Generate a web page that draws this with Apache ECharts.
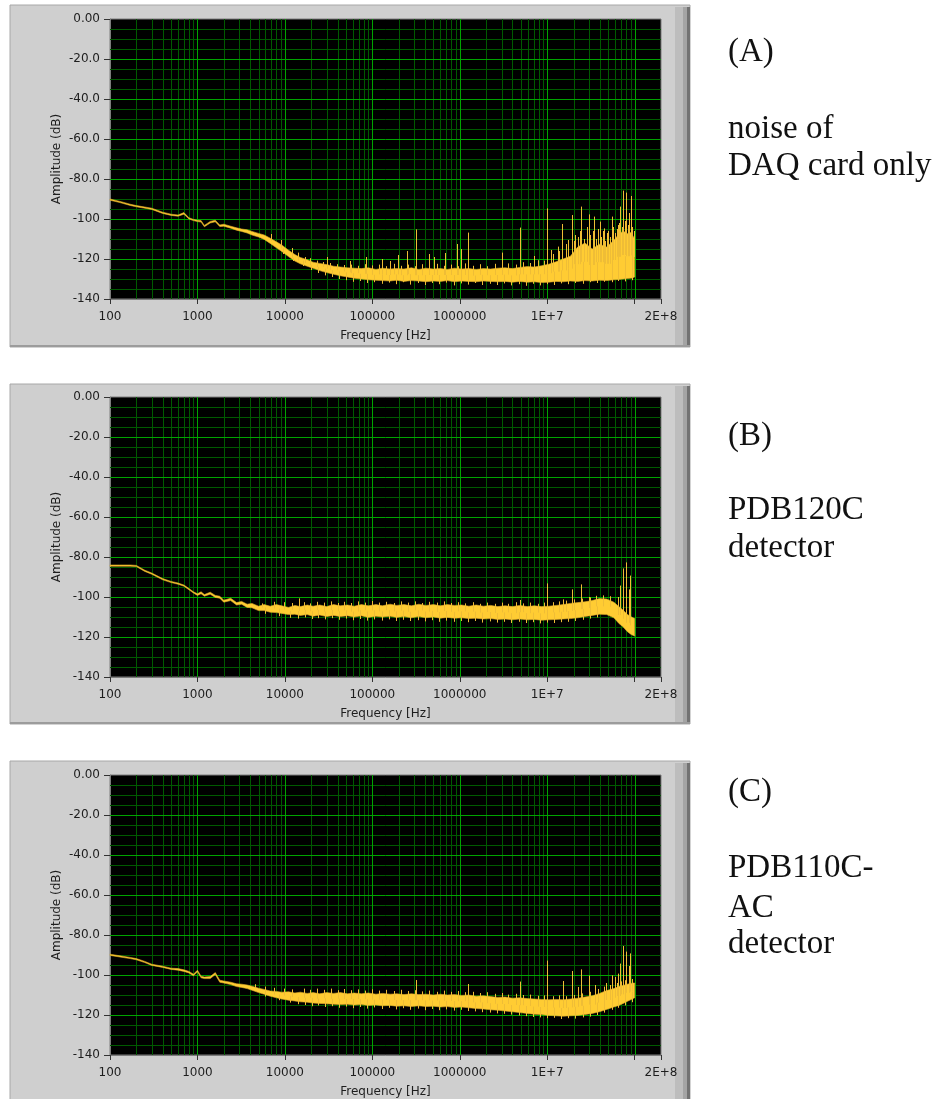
<!DOCTYPE html>
<html><head><meta charset="utf-8">
<script src="https://cdn.jsdelivr.net/npm/echarts@6/dist/echarts.min.js"></script>
<style>html,body{margin:0;padding:0;background:#fff}#c{width:940px;height:1099px}</style>
</head><body><div id="c"></div>
<script>
// ---------------- data ----------------
const bandFreq = [100,130,170,200,250,300,400,500,600,700,800,900,1000,1100,1200,1400,1600,1800,2000,2400,2800,3200,3700,4200,5000,5800,6800,8000,9200,11000,13000,15000,18000,21000,25000,30000,36000,43000,52000,62000,75000,90000,110000,130000,160000,190000,230000,280000,340000,410000,500000,600000,720000,870000,1050000,1270000,1540000,1860000,2250000,2720000,3300000,4000000,4850000,5900000,7100000,8600000,10400000,12600000,15200000,18400000,22300000,27000000,32700000,39500000,47800000,57800000,66000000,74000000,82000000,90000000,96000000,100000000];

const aHi = [-90.0,-91.2,-92.6,-93.3,-94.0,-94.6,-96.6,-97.6,-98.0,-96.8,-99.4,-100.2,-100.6,-100.8,-103.2,-101.2,-100.6,-103.0,-102.6,-103.6,-104.4,-105.0,-105.4,-106.2,-107.2,-108.0,-109.6,-111.4,-113.0,-115.6,-117.8,-119.2,-120.4,-121.6,-122.2,-122.8,-123.6,-124.0,-124.4,-124.6,-124.8,-124.4,-125.2,-124.6,-125.0,-124.8,-125.0,-124.4,-125.2,-124.6,-125.0,-124.8,-125.2,-124.6,-125.0,-124.8,-125.2,-124.8,-125.0,-124.6,-124.4,-124.8,-124.2,-123.8,-124.0,-123.4,-122.6,-121.4,-120.0,-118.6,-114.0,-112.0,-115.0,-112.6,-114.0,-110.6,-107.6,-106.0,-107.4,-106.8,-108.6,-110.0];
const aLo = [-90.6,-91.8,-93.2,-93.9,-94.6,-95.2,-97.2,-98.2,-98.6,-97.6,-100.0,-100.8,-101.3,-101.5,-103.9,-102.0,-101.4,-103.8,-103.6,-104.6,-105.6,-106.2,-107.0,-108.0,-109.0,-110.2,-112.2,-114.4,-116.2,-118.8,-121.0,-122.4,-123.6,-124.6,-125.8,-126.8,-127.6,-128.4,-129.0,-129.6,-130.0,-130.4,-130.6,-130.8,-131.0,-130.6,-131.2,-130.8,-131.0,-131.4,-131.0,-131.2,-130.8,-131.4,-131.0,-131.2,-131.4,-131.0,-131.2,-131.4,-131.2,-131.6,-131.2,-131.6,-131.4,-131.8,-131.6,-131.2,-131.4,-131.0,-131.2,-130.8,-131.0,-130.6,-130.8,-130.4,-130.2,-130.0,-129.8,-129.6,-129.4,-129.0];

const bHi = [-84.0,-84.0,-84.0,-84.2,-86.6,-88.0,-90.8,-92.2,-93.0,-94.0,-95.8,-97.4,-98.4,-97.4,-98.8,-97.6,-99.2,-99.6,-101.6,-100.6,-102.8,-102.2,-103.6,-103.2,-104.6,-103.8,-104.6,-103.8,-104.4,-105.2,-104.2,-104.8,-104.0,-104.6,-104.0,-104.8,-103.8,-104.4,-104.0,-104.6,-103.8,-104.4,-103.8,-104.4,-103.6,-104.2,-103.8,-104.4,-103.6,-104.2,-103.8,-104.4,-103.8,-104.2,-104.0,-104.6,-104.0,-104.6,-104.2,-104.8,-104.4,-104.8,-104.2,-104.8,-104.4,-104.8,-104.6,-104.2,-103.8,-103.2,-102.8,-102.4,-101.8,-100.8,-101.0,-102.6,-104.8,-106.6,-108.6,-109.8,-110.4,-110.8];
const bLo = [-84.6,-84.6,-84.6,-84.8,-87.2,-88.6,-91.4,-92.8,-93.6,-94.6,-96.4,-98.0,-99.2,-98.4,-99.6,-98.6,-100.2,-100.6,-102.6,-101.8,-104.0,-103.6,-105.2,-105.4,-106.8,-106.8,-107.6,-107.8,-108.2,-108.8,-108.6,-109.2,-108.8,-109.6,-109.0,-109.8,-109.2,-109.8,-109.4,-110.0,-109.4,-110.2,-109.6,-110.0,-109.6,-110.2,-109.8,-110.4,-109.8,-110.4,-110.0,-110.6,-110.2,-110.6,-110.4,-110.8,-110.6,-111.0,-110.8,-111.2,-111.0,-111.4,-111.0,-111.4,-111.2,-111.6,-111.4,-111.2,-111.0,-110.8,-110.4,-109.8,-109.2,-108.6,-108.8,-110.4,-113.2,-115.0,-117.2,-118.6,-119.2,-119.6];

const cHi = [-89.6,-90.4,-91.2,-91.8,-93.2,-94.6,-95.6,-96.6,-96.8,-97.4,-98.2,-99.6,-97.6,-100.6,-101.0,-100.8,-98.8,-102.6,-103.0,-103.6,-104.4,-104.6,-105.0,-105.6,-106.6,-107.2,-108.0,-108.2,-108.6,-108.4,-109.0,-108.6,-109.2,-108.8,-109.4,-108.8,-109.2,-108.8,-109.4,-109.0,-109.4,-109.0,-109.6,-109.2,-109.6,-109.4,-109.8,-109.4,-109.8,-109.6,-110.0,-109.6,-110.0,-109.8,-110.2,-110.0,-110.6,-110.4,-110.8,-111.2,-111.0,-111.6,-111.4,-111.8,-112.0,-112.2,-112.4,-112.2,-112.4,-112.0,-111.6,-111.0,-110.4,-109.2,-107.8,-106.8,-105.8,-105.2,-104.6,-104.2,-104.0,-104.0];
const cLo = [-90.2,-91.0,-91.8,-92.4,-93.8,-95.2,-96.2,-97.2,-97.6,-98.2,-99.0,-100.4,-98.4,-101.4,-101.8,-101.8,-99.8,-103.6,-104.0,-104.8,-105.8,-106.2,-106.8,-107.6,-108.8,-109.6,-110.6,-111.4,-112.0,-112.6,-113.0,-113.4,-113.6,-114.0,-114.2,-114.4,-114.6,-114.8,-114.6,-115.0,-114.8,-115.2,-115.0,-115.4,-115.2,-115.6,-115.4,-115.8,-115.4,-115.8,-115.6,-116.0,-115.8,-116.2,-116.0,-116.4,-116.8,-117.0,-117.4,-117.6,-118.0,-118.4,-118.8,-119.2,-119.6,-119.8,-120.2,-120.4,-120.6,-120.4,-120.2,-119.8,-119.2,-118.4,-117.2,-116.0,-115.2,-114.2,-113.2,-112.4,-111.8,-111.4];

// narrow peaks and dips: [frequency, dB]
const spikesA = [[30000,-119],[55000,-121],[84000,-119],[130000,-120],[160000,-121],[195000,-118],[247000,-116],[313000,-105.2],[450000,-117.5],[510000,-119],[680000,-117],[920000,-112.5],[1020000,-115],[1240000,-106.8],[3040000,-116.8],[4930000,-104.3],[7100000,-118.5],[9860000,-94.7],[10900000,-115.5],[13300000,-113.8],[14900000,-102.5],[17300000,-110.5],[19400000,-98],[22500000,-109],[24600000,-93.8],[29800000,-97.7],[34300000,-98.8],[39800000,-101.3],[44300000,-104.7],[48300000,-107],[54700000,-98.8],[64600000,-103],[68700000,-93.8],[73700000,-85.8],[80500000,-86.8],[85500000,-97],[90000000,-88.5]];
const fuzzA = [[7000,-107.5],[9000,-110.5],[12000,-114.5],[14000,-116.8],[17000,-119],[19500,-119.6],[23000,-120.8],[27000,-121.5],[33000,-122],[39000,-122.6],[47000,-123],[57000,-122.8],[68000,-123.4],[82000,-122.6],[100000,-123.2],[120000,-122.8],[145000,-123.6],[175000,-122.4],[210000,-123.4],[255000,-122.8],[310000,-123.6],[370000,-122.6],[450000,-123.8],[550000,-122.4],[660000,-123.4],[800000,-122.8],[960000,-123.6],[1150000,-122.2],[1400000,-123.4],[1700000,-122.6],[2050000,-123.6],[2500000,-122.4],[3000000,-123.2],[3600000,-122.2],[4400000,-122.8],[5300000,-121.6],[6400000,-122],[7800000,-120.6],[9300000,-120.8],[11500000,-117.5],[13800000,-116],[16500000,-112.5],[20500000,-111],[21000000,-108],[23500000,-106],[26000000,-110],[28500000,-104],[31000000,-108],[33500000,-106],[36000000,-110],[38000000,-105],[41000000,-109],[43000000,-106],[46000000,-111],[50000000,-106],[52000000,-109],[57000000,-104],[60000000,-107],[62000000,-105],[66000000,-102],[71000000,-104],[77000000,-101],[83000000,-103],[87000000,-100],[93000000,-104],[97000000,-106],
  [9500,-117.5],[12500,-121],[16000,-123.5],[20000,-125.5],[24000,-127],[29000,-128.2],[35000,-129],[42000,-130],[50000,-130.6],[60000,-131.4],[73000,-131],[88000,-132],[105000,-131.6],[128000,-132.4],[155000,-131.8],[185000,-132.6],[225000,-131.6],[270000,-132.8],[330000,-132],[400000,-133],[480000,-132],[580000,-132.6],[700000,-131.8],[850000,-133.2],[1030000,-132.2],[1250000,-132.8],[1500000,-132],[1800000,-133],[2200000,-132.4],[2650000,-133],[3200000,-132.2],[3900000,-133.2],[4700000,-132.6],[5700000,-133.4],[6900000,-132.4],[8300000,-133.2],[10000000,-132.6],[12000000,-133],[14500000,-132.2],[17500000,-132.6],[21000000,-132],[25500000,-132.4],[31000000,-131.6],[37500000,-132],[45000000,-131.4],[55000000,-131.6],[65000000,-131],[78000000,-131.2],[92000000,-130.6]];
const spikesB = [[14500,-100.7],[4930000,-101.5],[9860000,-93.2],[15000000,-101.2],[19400000,-96.2],[24600000,-93.7],[29800000,-100],[64600000,-100],[68700000,-94.3],[73700000,-85.7],[79600000,-82.7],[85000000,-96.2],[89000000,-89.3]];
const fuzzB = [[5500,-103.2],[7500,-102.4],[9800,-102.6],[12000,-103],[16500,-102.6],[19500,-103.2],[23000,-102.4],[28000,-102.8],[34000,-102.2],[40000,-103],[48000,-102.4],[57000,-103],[68000,-102.2],[82000,-102.8],[100000,-102],[120000,-102.8],[145000,-102.4],[175000,-103],[210000,-102.2],[255000,-102.8],[310000,-102.2],[370000,-103],[450000,-102.4],[550000,-102.8],[660000,-102.2],[800000,-103],[960000,-102.6],[1150000,-103.2],[1400000,-102.6],[1700000,-103.4],[2050000,-102.8],[2500000,-103.4],[3000000,-102.8],[3600000,-103.4],[4400000,-102.6],[5300000,-103.2],[6400000,-102.8],[7800000,-103.4],[9300000,-102.8],[11500000,-102.6],[13800000,-102.2],[16500000,-101.8],[20500000,-101.2],[25000000,-100.8],[31000000,-100.2],[36000000,-99.4],[43000000,-99.2],[52000000,-99.6],
  [6000,-108.4],[8500,-109.6],[11500,-110.4],[14000,-110.8],[17000,-110.2],[20500,-111],[24000,-110.6],[29000,-111.2],[35000,-110.6],[42000,-111.4],[50000,-110.8],[60000,-111.6],[73000,-111],[88000,-111.8],[105000,-111.2],[128000,-111.8],[155000,-111.2],[185000,-112],[225000,-111.4],[270000,-112],[330000,-111.6],[400000,-112.2],[480000,-111.6],[580000,-112.4],[700000,-111.8],[850000,-112.4],[1030000,-112],[1250000,-112.6],[1500000,-112],[1800000,-112.8],[2200000,-112.2],[2650000,-112.8],[3200000,-112.4],[3900000,-113],[4700000,-112.4],[5700000,-113],[6900000,-112.6],[8300000,-113.2],[10000000,-112.8],[12000000,-113],[14500000,-112.6],[17500000,-112.4],[21000000,-112],[25500000,-111.4],[31000000,-110.8],[37500000,-110.2]];
const spikesC = [[313000,-102.5],[1240000,-104.5],[4930000,-103.3],[9860000,-92.8],[15000000,-103],[19400000,-98],[22500000,-106],[24600000,-97.2],[29800000,-100.3],[35000000,-105],[47000000,-104],[54700000,-100.2],[59000000,-101],[64600000,-99.3],[68700000,-94.3],[73700000,-85.5],[80000000,-88.3],[85000000,-95.5],[89000000,-89.2]];
const fuzzC = [[4500,-104.6],[6000,-105.8],[7500,-106.4],[9800,-106.8],[12000,-107.2],[16500,-106.8],[19500,-107.4],[23000,-106.8],[28000,-107.4],[34000,-106.8],[40000,-107.6],[48000,-107],[57000,-107.6],[68000,-107.2],[82000,-107.8],[100000,-107.2],[120000,-107.8],[145000,-107.4],[175000,-108],[210000,-107.4],[255000,-108],[310000,-107.6],[370000,-108.2],[450000,-107.8],[550000,-108.4],[660000,-107.8],[800000,-108.4],[960000,-108],[1150000,-108.6],[1400000,-108.4],[1700000,-109],[2050000,-108.6],[2500000,-109.4],[3000000,-109],[3600000,-109.8],[4400000,-109.4],[5300000,-110],[6400000,-109.8],[7800000,-110.4],[9300000,-110.2],[11500000,-110.6],[13800000,-110.2],[16500000,-110.6],[20500000,-110],[25000000,-109.2],[31000000,-108.4],[38000000,-107],[45000000,-105.8],[52000000,-105],[62000000,-104],[70000000,-103.2],[78000000,-102.6],[86000000,-102.2],[94000000,-102],
  [6000,-110.8],[8500,-112.6],[11500,-113.8],[14000,-114.6],[17000,-115],[20500,-115.6],[24000,-115.2],[29000,-116],[35000,-115.6],[42000,-116.4],[50000,-115.8],[60000,-116.6],[73000,-116],[88000,-116.8],[105000,-116.2],[128000,-117],[155000,-116.4],[185000,-117.2],[225000,-116.6],[270000,-117.4],[330000,-116.8],[400000,-117.6],[480000,-117],[580000,-117.6],[700000,-117.2],[850000,-117.8],[1030000,-117.4],[1250000,-118],[1500000,-118.2],[1800000,-118.6],[2200000,-118.8],[2650000,-119.2],[3200000,-119.4],[3900000,-119.8],[4700000,-120.2],[5700000,-120.6],[6900000,-121],[8300000,-121.2],[10000000,-121.6],[12000000,-121.4],[14500000,-122],[17500000,-121.6],[21000000,-121.8],[25500000,-121.2],[31000000,-120.8],[37500000,-120],[45000000,-118.8],[55000000,-117.4],[65000000,-116.4],[78000000,-115.2],[92000000,-113.6]];

const yTicks = [0,-20,-40,-60,-80,-100,-120,-140];
const yTickLabels = ['0.00','-20.0','-40.0','-60.0','-80.0','-100','-120','-140'];
const xTickValues = [100,1000,10000,100000,1000000,10000000,100000000,200000000];
const xTickLabels = ['100','1000','10000','100000','1000000','1E+7','','2E+8'];
const decades = [100,1000,10000,100000,1000000,10000000];
const decadeSteps = [2,3,4,5,6,7,8,9];
const yMinorSteps = [5,10,15];

// ---------------- chart ----------------
const L = Math.log10;
const XMIN = L(xTickValues[0]), XMAX = L(xTickValues[xTickValues.length - 1]);

function fmtX(v) {
  for (let i = 0; i < xTickValues.length; i++) {
    if (Math.abs(v - L(xTickValues[i])) < 0.005) return xTickLabels[i];
  }
  return '';
}
function fmtY(v) {
  const i = yTicks.indexOf(Math.round(v));
  return i >= 0 ? yTickLabels[i] : '';
}

// grid line positions (axis decoration)
const minorV = [], majorV = [], minorH = [], majorH = [];
decades.forEach(d => decadeSteps.forEach(k => minorV.push([L(d * k), -70])));
xTickValues.slice(1, -1).forEach(v => majorV.push([L(v), -70]));
yTicks.slice(0, -1).forEach(t => yMinorSteps.forEach(s => minorH.push([5, t - s])));
yTicks.slice(1, -1).forEach(t => majorH.push([5, t]));

const panels = [
  {top: 19,  hi: aHi, lo: aLo, spikes: spikesA.concat(fuzzA)},
  {top: 397, hi: bHi, lo: bLo, spikes: spikesB.concat(fuzzB)},
  {top: 775, hi: cHi, lo: cLo, spikes: spikesC.concat(fuzzC)}
];

const FONT = 'DejaVu Sans';
const grids = [], xAxes = [], yAxes = [], series = [];

function gridSeries(i, items, vColor, hColor, z) {
  return {
    type: 'custom', xAxisIndex: i, yAxisIndex: i, silent: true, z: z,
    data: items, encode: {x: 0, y: 1},
    renderItem: function (params, api) {
      const it = items[params.dataIndex];
      if (it.length === 3) {
        const a = api.coord([it[0], 0]), b = api.coord([it[0], -140]);
        const x = Math.round(a[0]) + 0.5;
        return {type: 'line', shape: {x1: x, y1: a[1], x2: x, y2: b[1]}, style: {stroke: vColor, lineWidth: 1}};
      }
      const a = api.coord([XMIN, it[1]]), b = api.coord([XMAX, it[1]]);
      const y = Math.round(a[1]) + 0.5;
      return {type: 'line', shape: {x1: a[0], y1: y, x2: b[0], y2: y}, style: {stroke: hColor, lineWidth: 1}};
    }
  };
}

panels.forEach((p, i) => {
  grids.push({left: 110, top: p.top, width: 551, height: 280, show: true,
    backgroundColor: '#000000', borderColor: '#7c7c7c', borderWidth: 1});
  xAxes.push({
    type: 'value', gridIndex: i, min: XMIN, max: XMAX, interval: 1,
    name: 'Frequency [Hz]', nameLocation: 'middle', nameGap: 31, nameMoveOverlap: false,
    nameTextStyle: {color: '#1e1e1e', fontFamily: FONT, fontSize: 12},
    axisLine: {show: true, onZero: false, lineStyle: {color: '#7c7c7c'}},
    axisTick: {show: true, length: 5, lineStyle: {color: '#333'}},
    axisLabel: {formatter: fmtX, margin: 12, color: '#1e1e1e', fontFamily: FONT, fontSize: 12},
    splitLine: {show: false}
  });
  yAxes.push({
    type: 'value', gridIndex: i, min: -140, max: 0, interval: 20,
    name: 'Amplitude (dB)', nameLocation: 'middle', nameGap: 47, nameMoveOverlap: false,
    nameTextStyle: {color: '#1e1e1e', fontFamily: FONT, fontSize: 12},
    axisLine: {show: true, onZero: false, lineStyle: {color: '#7c7c7c'}},
    axisTick: {show: true, length: 6, lineStyle: {color: '#333'}},
    axisLabel: {formatter: fmtY, margin: 10, color: '#1e1e1e', fontFamily: FONT, fontSize: 12},
    splitLine: {show: false}
  });
  series.push(gridSeries(i, minorV.map(v => [v[0], v[1], 1]).concat(minorH), '#005a00', '#005a00', 1));
  series.push(gridSeries(i, majorV.map(v => [v[0], v[1], 1]).concat(majorH), '#00a400', '#00a400', 2));
  const rows = bandFreq.map((f, k) => [L(f), p.lo[k], p.hi[k]]);
  series.push({
    type: 'custom', xAxisIndex: i, yAxisIndex: i, silent: true, z: 3,
    data: rows, encode: {x: 0, y: [1, 2]},
    renderItem: function (params, api) {
      if (params.dataIndex !== 0) return null;
      const top = [], bot = [];
      rows.forEach(r => { top.push(api.coord([r[0], r[2]])); bot.push(api.coord([r[0], r[1]])); });
      return {type: 'polygon', shape: {points: top.concat(bot.reverse())},
        style: {fill: '#ffcc33', stroke: '#e3ae2a', lineWidth: 0.6}};
    }
  });
  const spikeRows = p.spikes.map(s => {
    const lf = L(s[0]);
    let best = 0;
    rows.forEach((r, k) => { if (Math.abs(r[0] - lf) < Math.abs(rows[best][0] - lf)) best = k; });
    return [lf, (rows[best][1] + rows[best][2]) / 2, s[1]];
  });
  series.push({
    type: 'custom', xAxisIndex: i, yAxisIndex: i, silent: true, z: 4,
    data: spikeRows, encode: {x: 0, y: [1, 2]},
    renderItem: function (params, api) {
      const a = api.coord([api.value(0), api.value(1)]);
      const b = api.coord([api.value(0), api.value(2)]);
      const x = Math.round(a[0]) + 0.5;
      return {type: 'line', shape: {x1: x, y1: a[1], x2: x, y2: b[1]},
        style: {stroke: '#efbd36', lineWidth: 1}};
    }
  });
});

const frames = [[5, 347], [384, 724], [761, 1112]];
const gfx = [];
frames.forEach(fr => {
  const h = fr[1] - fr[0];
  gfx.push({type: 'rect', z: -100, shape: {x: 10, y: fr[0], width: 680, height: h}, style: {fill: '#cfcfcf', stroke: '#a8a8a8', lineWidth: 1}});
  gfx.push({type: 'rect', z: -99, shape: {x: 675, y: fr[0] + 2, width: 8, height: h - 3}, style: {fill: '#bdbdbd'}});
  gfx.push({type: 'rect', z: -99, shape: {x: 683, y: fr[0] + 2, width: 4, height: h - 3}, style: {fill: '#a4a4a4'}});
  gfx.push({type: 'rect', z: -99, shape: {x: 687, y: fr[0] + 2, width: 3, height: h - 3}, style: {fill: '#727272'}});
  gfx.push({type: 'rect', z: -99, shape: {x: 10, y: fr[1] - 2, width: 680, height: 2}, style: {fill: '#9c9c9c'}});
});
const sideText = [
  ['(A)', 63], ['noise of', 140], ['DAQ card only', 177],
  ['(B)', 447], ['PDB120C', 521], ['detector', 559],
  ['(C)', 803], ['PDB110C-', 879], ['AC', 919], ['detector', 955]
];
sideText.forEach(t => {
  gfx.push({type: 'text', z: 10, x: 728, y: t[1] - 11,
    style: {text: t[0], fill: '#111', font: '33px "Liberation Serif"', verticalAlign: 'middle', align: 'left'}});
});

const chart = echarts.init(document.getElementById('c'));
chart.setOption({
  backgroundColor: '#ffffff',
  animation: false,
  grid: grids, xAxis: xAxes, yAxis: yAxes, series: series,
  graphic: {elements: gfx}
});
</script>
</body></html>
